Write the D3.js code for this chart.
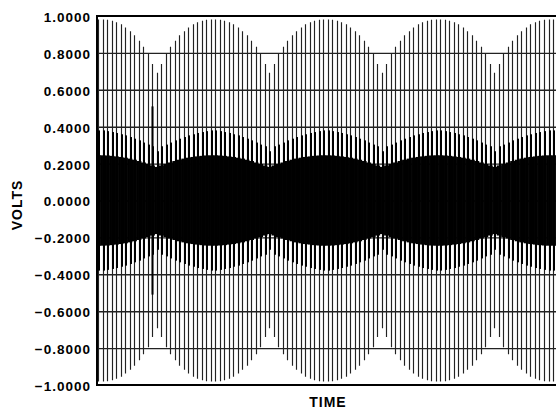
<!DOCTYPE html>
<html><head><meta charset="utf-8">
<script src="https://cdn.jsdelivr.net/npm/d3@7"></script>
<style>html,body{margin:0;padding:0;background:#fff;overflow:hidden}</style>
</head><body>
<svg id="c" width="556" height="410"></svg>
<script>
// ---- data ----
const cycleCount = 104;                       // carrier cycles across the time axis
const dipCycles = [-12, 13, 38, 63, 88, 113]; // cycles where the envelope dips
// envelope amplitude (V) by distance (in cycles) from the nearest dip
const outerProfile  = [0.692, 0.740, 0.795, 0.834, 0.866, 0.896, 0.918, 0.937, 0.955, 0.966, 0.974, 0.980, 0.981];
const middleProfile = [0.267, 0.294, 0.303, 0.314, 0.326, 0.335, 0.344, 0.353, 0.359, 0.366, 0.371, 0.376, 0.380];
const innerProfile  = [0.182, 0.190, 0.198, 0.206, 0.214, 0.221, 0.227, 0.232, 0.236, 0.239, 0.242, 0.244, 0.245];
const glitchCycles = [12];
const glitchValues = [0.51];
const yTickValues = [1.0, 0.8, 0.6, 0.4, 0.2, 0.0, -0.2, -0.4, -0.6, -0.8, -1.0];
const xLabel = "TIME";
const yLabel = "VOLTS";

// ---- layout ----
const plot = {left: 97, right: 562, top: 16, bottom: 385};
const cycleStep = 4.505;
const svg = d3.select("#c");
const x = d3.scaleLinear().domain([0, cycleCount - 1]).range([98, 98 + cycleStep * (cycleCount - 1)]);
const y = d3.scaleLinear().domain([-1, 1]).range([plot.bottom, plot.top]);
const cycles = d3.range(cycleCount);
const amp = (profile, k) => profile[Math.min(profile.length - 1, d3.min(dipCycles, d => Math.abs(k - d)))];

svg.append("defs").append("clipPath").attr("id", "clip")
  .append("rect").attr("x", plot.left).attr("y", plot.top)
  .attr("width", plot.right - plot.left).attr("height", plot.bottom - plot.top);

// gridlines
const gridVals = yTickValues.filter(v => Math.abs(v) < 1);
svg.append("g").attr("transform", `translate(${plot.left},0)`)
  .call(d3.axisLeft(y).tickValues(gridVals).tickSize(-(plot.right - plot.left)).tickFormat(""))
  .call(g => g.select(".domain").remove())
  .call(g => g.selectAll("line").attr("stroke", "#222").attr("stroke-width", 1.4));

const wave = svg.append("g").attr("clip-path", "url(#clip)");

// inner (dense) band
wave.append("g").selectAll("rect").data(cycles).join("rect")
  .attr("x", k => x(k) - cycleStep / 2)
  .attr("width", cycleStep + 0.6)
  .attr("y", k => y(amp(innerProfile, k)))
  .attr("height", k => y(-amp(innerProfile, k)) - y(amp(innerProfile, k)))
  .attr("fill", "#000");

// outer carrier lines
wave.append("g").selectAll("line").data(cycles).join("line")
  .attr("x1", k => Math.round(x(k)) + 0.5).attr("x2", k => Math.round(x(k)) + 0.5)
  .attr("y1", k => y(amp(outerProfile, k))).attr("y2", k => y(-amp(outerProfile, k)))
  .attr("stroke", "#222").attr("stroke-width", 1.15);

// middle bars
wave.append("g").selectAll("rect").data(cycles).join("rect")
  .attr("x", k => Math.round(x(k)))
  .attr("width", 2)
  .attr("y", k => y(amp(middleProfile, k)))
  .attr("height", k => y(-amp(middleProfile, k)) - y(amp(middleProfile, k)))
  .attr("fill", "#000");

// phase glitch
wave.append("g").selectAll("rect").data(glitchCycles).join("rect")
  .attr("x", k => Math.round(x(k)) - 0.5)
  .attr("width", 2)
  .attr("y", (k, i) => y(glitchValues[i]))
  .attr("height", (k, i) => y(-glitchValues[i]) - y(glitchValues[i]))
  .attr("fill", "#000");

// frame (top, left, bottom)
svg.append("path")
  .attr("d", `M${plot.right},${plot.top}H${plot.left}V${plot.bottom}H${plot.right}`)
  .attr("fill", "none").attr("stroke", "#000").attr("stroke-width", 2);

// y axis labels
svg.append("g").attr("transform", `translate(${plot.left},0)`)
  .call(d3.axisLeft(y).tickValues(yTickValues).tickSize(0).tickPadding(6)
        .tickFormat(v => d3.format(".4f")(v).replace("-", "\u2013")))
  .call(g => g.select(".domain").remove())
  .call(g => g.selectAll("text")
     .attr("font-family", "'Liberation Sans', Arial, sans-serif")
     .attr("font-weight", "bold").attr("font-size", 13.5)
     .attr("letter-spacing", 1).attr("fill", "#000").attr("dy", "0.4em"));

svg.append("text")
  .attr("transform", `translate(21.5,205) rotate(-90)`)
  .attr("text-anchor", "middle")
  .attr("font-family", "'Liberation Sans', Arial, sans-serif")
  .attr("font-weight", "bold").attr("font-size", 14).attr("letter-spacing", 1)
  .text(yLabel);

svg.append("text")
  .attr("x", 328).attr("y", 407)
  .attr("text-anchor", "middle")
  .attr("font-family", "'Liberation Sans', Arial, sans-serif")
  .attr("font-weight", "bold").attr("font-size", 14).attr("letter-spacing", 1)
  .text(xLabel);
</script>
</body></html>
